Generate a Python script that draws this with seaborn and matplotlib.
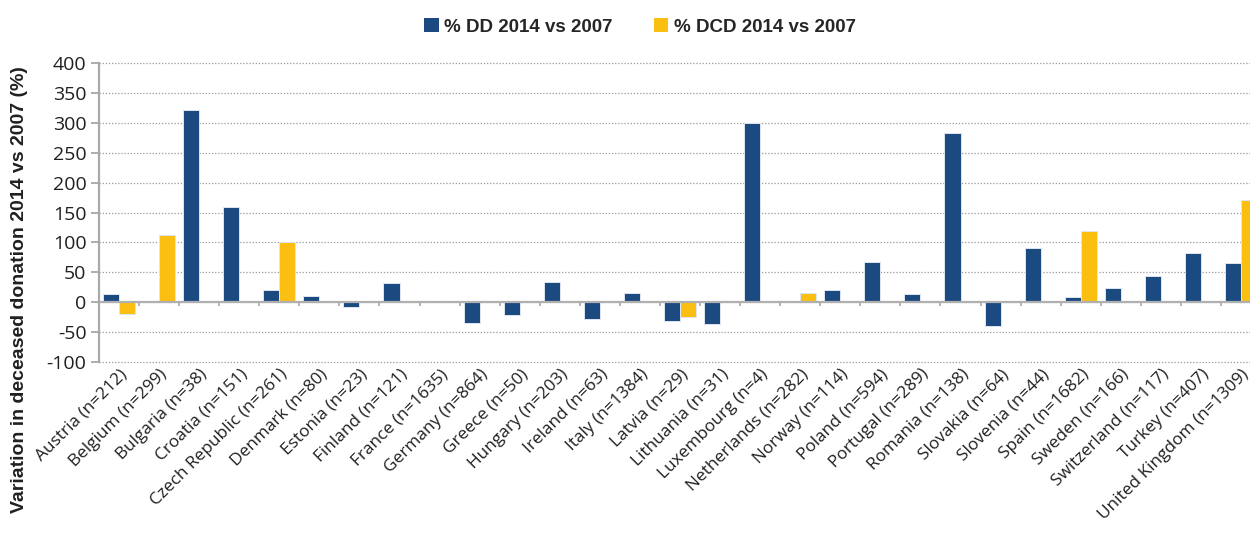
import numpy as np
import pandas as pd
import matplotlib
matplotlib.use("Agg")
import matplotlib.pyplot as plt
from matplotlib.patches import Patch
import seaborn as sns

countries = ["Austria (n=212)", "Belgium (n=299)", "Bulgaria (n=38)", "Croatia (n=151)",
             "Czech Republic (n=261)", "Denmark (n=80)", "Estonia (n=23)", "Finland (n=121)",
             "France (n=1635)", "Germany (n=864)", "Greece (n=50)", "Hungary (n=203)",
             "Ireland (n=63)", "Italy (n=1384)", "Latvia (n=29)", "Lithuania (n=31)",
             "Luxembourg (n=4)", "Netherlands (n=282)", "Norway (n=114)", "Poland (n=594)",
             "Portugal (n=289)", "Romania (n=138)", "Slovakia (n=64)", "Slovenia (n=44)",
             "Spain (n=1682)", "Sweden (n=166)", "Switzerland (n=117)", "Turkey (n=407)",
             "United Kingdom (n=1309)"]
dd = [14, 0.5, 322, 160, 20, 11, -8, 32, 2, -35, -22, 34, -28, 15, -32, -36,
      300, 1, 21, 68, 14, 283, -40, 91, 8, 24, 44, 82, 65]
dcd = [-20, 113, np.nan, np.nan, 100, np.nan, np.nan, np.nan, 2, np.nan, np.nan, np.nan,
       np.nan, np.nan, -25, np.nan, np.nan, 16, np.nan, np.nan, np.nan, np.nan, np.nan,
       np.nan, 119, np.nan, np.nan, np.nan, 171]
series = ["% DD 2014 vs 2007", "% DCD 2014 vs 2007"]
yticks = [-100, -50, 0, 50, 100, 150, 200, 250, 300, 350, 400]
ylabel = "Variation in deceased donation 2014 vs 2007 (%)"

colors = ["#1a4a7f", "#fbbf12"]

df = pd.DataFrame({
    "country": countries * 2,
    "value": list(dd) + list(dcd),
    "series": [series[0]] * len(countries) + [series[1]] * len(countries),
})

sns.set_style("white")
plt.rcParams["font.family"] = ["Open Sans", "DejaVu Sans"]

fig = plt.figure(figsize=(12.5, 5.34), dpi=100)
ax = fig.add_axes([99 / 1250, 1 - 362 / 534, 1 - 99 / 1250, (362 - 63) / 534])

sns.barplot(data=df, x="country", y="value", hue="series", order=countries,
            hue_order=series, palette=colors, width=0.8, ax=ax, legend=False,
            edgecolor="#dfe6f0", linewidth=0.7, saturation=1)

n = len(countries)
ax.set_ylim(-100, 400)
ax.set_xlim(-0.5, -0.5 + (1250 - 99) / 40.07)
ax.set_yticks(yticks)
ax.set_yticklabels([str(v) for v in yticks], fontsize=14, color="#231f20")
ax.yaxis.grid(True, linestyle=(0, (1, 1.5)), color="#9a9a9a", linewidth=0.9)
for gl in ax.get_ygridlines():
    gl.set_clip_on(False)
ax.set_axisbelow(True)
ax.tick_params(axis="y", direction="out", length=6, color="#a0a0a0", width=1.2, pad=3, left=True)

for s in ["top", "right", "bottom"]:
    ax.spines[s].set_visible(False)
ax.spines["left"].set_color("#a9a9a9")
ax.spines["left"].set_linewidth(1.6)

ax.axhline(0, color="#b0b0b0", linewidth=1.6, zorder=1.5)
bounds = np.arange(n + 1) - 0.5
ax.vlines(bounds[1:], -6, 0, color="#b0b0b0", linewidth=1.3, zorder=1.5)

ax.set_xticks(range(n))
ax.set_xticklabels(countries, rotation=45, ha="right", rotation_mode="anchor",
                   fontsize=12.4, color="#231f20")
ax.tick_params(axis="x", length=0, pad=3)
ax.set_xlabel("")
ax.set_ylabel("")

fig.text(20 / 1250, 1 - 290 / 534, ylabel, rotation=90, ha="center", va="center",
         fontsize=14, fontweight="bold", color="#231f20",
         family=["Liberation Sans", "DejaVu Sans"])

handles = [Patch(facecolor=c, edgecolor="none") for c in colors]
fig.legend(handles, series, loc="center", bbox_to_anchor=(640 / 1250, 1 - 27 / 534),
           ncol=2, frameon=False, handlelength=0.75, handleheight=0.75,
           handletextpad=0.3, columnspacing=2.2,
           prop={"family": ["Liberation Sans", "DejaVu Sans"], "weight": "bold", "size": 13.5})

fig.savefig("out.png", dpi=100)
